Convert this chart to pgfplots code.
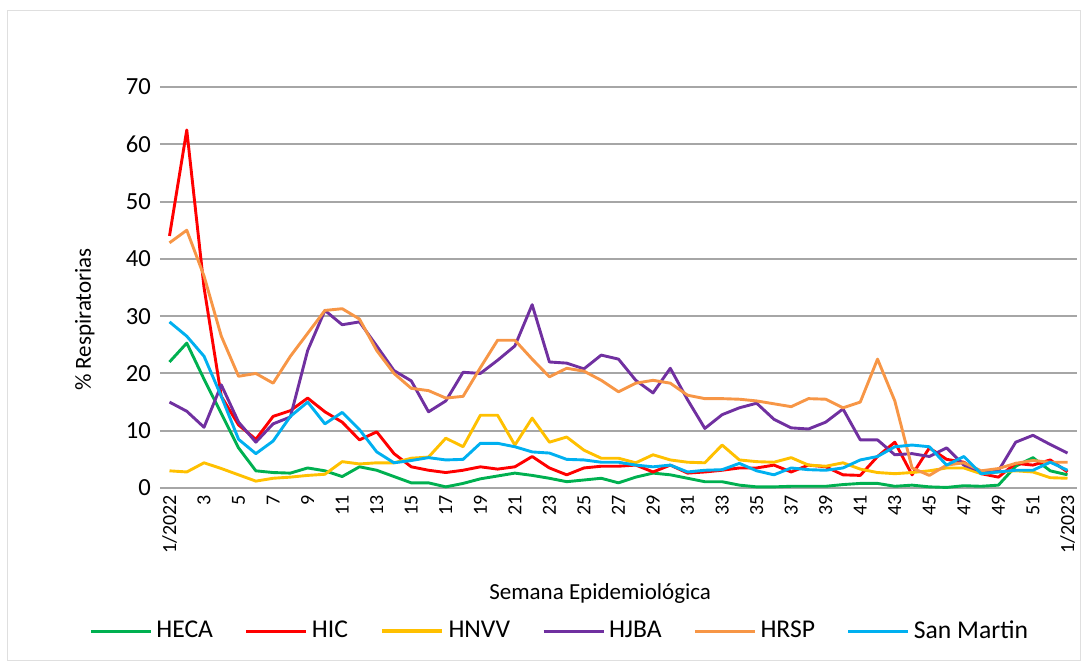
\documentclass[border=0pt]{standalone}
\usepackage{pgfplots}
\pgfplotsset{compat=1.18}
\usepackage{pgfplotstable}
\usepackage{fontspec}
\setmainfont{Carlito}
\definecolor{cHECA}{RGB}{0,176,80}
\definecolor{cHIC}{RGB}{255,0,0}
\definecolor{cHNVV}{RGB}{255,192,0}
\definecolor{cHJBA}{RGB}{112,48,160}
\definecolor{cHRSP}{RGB}{247,150,70}
\definecolor{cSM}{RGB}{0,176,240}
\definecolor{gridc}{RGB}{166,166,166}
\pgfplotstableread{
idx heca hic hnvv hjba hrsp sm
0 22 44 3 15 42.8 29
1 25.3 62.5 2.8 13.4 45 26.5
2 19 35 4.4 10.6 37 23
3 13 16 3.4 18 26.5 16
4 7 11 2.3 11.5 19.5 8.5
5 3 8.5 1.2 8 20 6
6 2.7 12.5 1.7 11.2 18.3 8.2
7 2.6 13.5 1.9 12.4 23 12.5
8 3.5 15.7 2.2 24 27 15
9 3 13.3 2.4 31 31 11.2
10 2 11.5 4.6 28.5 31.3 13.2
11 3.7 8.4 4.2 29 29.5 10.2
12 3.1 9.8 4.4 24.8 24 6.3
13 2 6 4.4 20.5 20 4.4
14 0.9 3.7 5.2 18.7 17.4 4.8
15 0.9 3.1 5.4 13.3 17 5.3
16 0.2 2.7 8.7 15.2 15.7 4.9
17 0.8 3.1 7.2 20.2 16 5
18 1.6 3.7 12.7 20 21 7.8
19 2.1 3.3 12.7 22.3 25.8 7.8
20 2.6 3.7 7.5 24.8 25.8 7.2
21 2.2 5.5 12.2 32 22.5 6.3
22 1.7 3.5 8 22 19.4 6.1
23 1.1 2.3 8.9 21.8 20.9 5
24 1.4 3.5 6.6 20.8 20.4 4.9
25 1.7 3.8 5.2 23.2 18.8 4.5
26 0.9 3.8 5.2 22.5 16.8 4.5
27 1.9 4 4.4 18.8 18.3 4
28 2.6 2.8 5.8 16.6 18.8 3.7
29 2.3 4 4.9 20.9 18.3 4
30 1.7 2.6 4.5 15.4 16.2 2.8
31 1.1 2.8 4.4 10.4 15.6 3.1
32 1.1 3.1 7.5 12.8 15.6 3.2
33 0.5 3.5 4.9 14 15.5 4.3
34 0.2 3.5 4.6 14.8 15.2 3
35 0.2 4 4.5 12 14.7 2.3
36 0.3 2.8 5.3 10.5 14.2 3.5
37 0.3 4 4 10.3 15.6 3.2
38 0.3 3.7 3.8 11.5 15.5 3.1
39 0.6 2.3 4.4 13.8 14 3.5
40 0.8 2.2 3.3 8.4 15 4.9
41 0.8 5.5 2.7 8.4 22.5 5.5
42 0.3 8 2.5 5.8 15.2 7.2
43 0.5 2.3 2.7 6 3.5 7.5
44 0.2 7 3 5.5 2.2 7.2
45 0.1 5 3.5 7 4 4
46 0.4 4.5 3.5 4 4.4 5.5
47 0.3 2.5 2.5 2.9 3 2.5
48 0.5 1.9 2.8 3 3.4 2.8
49 3.8 4.3 3 8 4.3 3.1
50 5.3 4 2.8 9.2 4.8 3.1
51 3 4.9 1.8 7.6 4.5 4.5
52 2.3 2.8 1.7 6.1 4.5 3.1
}\datatable
\begin{document}
\begin{tikzpicture}
\useasboundingbox (-80pt,-89pt) rectangle (464pt,244pt);
\draw[gray!25, line width=0.5pt] (-76pt,-86pt) rectangle (460pt,239pt);
\begin{axis}[
  at={(0,0)}, anchor=south west,
  scale only axis,
  width=458.5pt, height=200.5pt,
  xmin=-0.55, xmax=52.55,
  ymin=0, ymax=70,
  ytick={0,10,...,70},
  xtick={0,2,...,52},
  xticklabels={1/2022,3,5,7,9,11,13,15,17,19,21,23,25,27,29,31,33,35,37,39,41,43,45,47,49,51,1/2023},
  axis line style={draw=none},
  major tick length=0pt,
  ymajorgrids,
  grid style={gridc, line width=1pt},
  /pgf/number format/assume math mode=true,
  yticklabel style={font=\fontsize{12.3pt}{14pt}\selectfont, xshift=-1pt},
  xticklabel style={font=\fontsize{10pt}{12pt}\selectfont, rotate=90, anchor=east},
  ylabel={\% Respiratorias},
  ylabel style={font=\fontsize{11.5pt}{13pt}\selectfont, at={(axis description cs:-0.082,0.42)}, anchor=center, rotate=0},
  xlabel={Semana Epidemiológica},
  xlabel style={font=\fontsize{11.5pt}{13pt}\selectfont, at={(axis description cs:0.48,-0.262)}, anchor=center},
  legend columns=6,
  legend style={draw=none, fill=none, at={(axis description cs:0.437,-0.357)}, anchor=center,
    font=\fontsize{12.8pt}{15pt}\selectfont,
    /tikz/every even column/.append style={column sep=14pt},
    nodes={inner sep=2pt}},
  legend image code/.code={\draw[#1] (0pt,0pt) -- (30pt,0pt);},
  every axis plot/.append style={line width=1.45pt, mark=none, line join=round},
  clip=false,
]
\addplot[cHECA] table[x=idx,y=heca]{\datatable};
\addlegendentry{HECA}
\addplot[cHIC] table[x=idx,y=hic]{\datatable};
\addlegendentry{HIC}
\addplot[cHNVV, legend image post style={line width=2.3pt}] table[x=idx,y=hnvv]{\datatable};
\addlegendentry{HNVV}
\addplot[cHJBA] table[x=idx,y=hjba]{\datatable};
\addlegendentry{HJBA}
\addplot[cHRSP] table[x=idx,y=hrsp]{\datatable};
\addlegendentry{HRSP}
\addplot[cSM] table[x=idx,y=sm]{\datatable};
\addlegendentry{San Martin}
\end{axis}
\end{tikzpicture}
\end{document}
